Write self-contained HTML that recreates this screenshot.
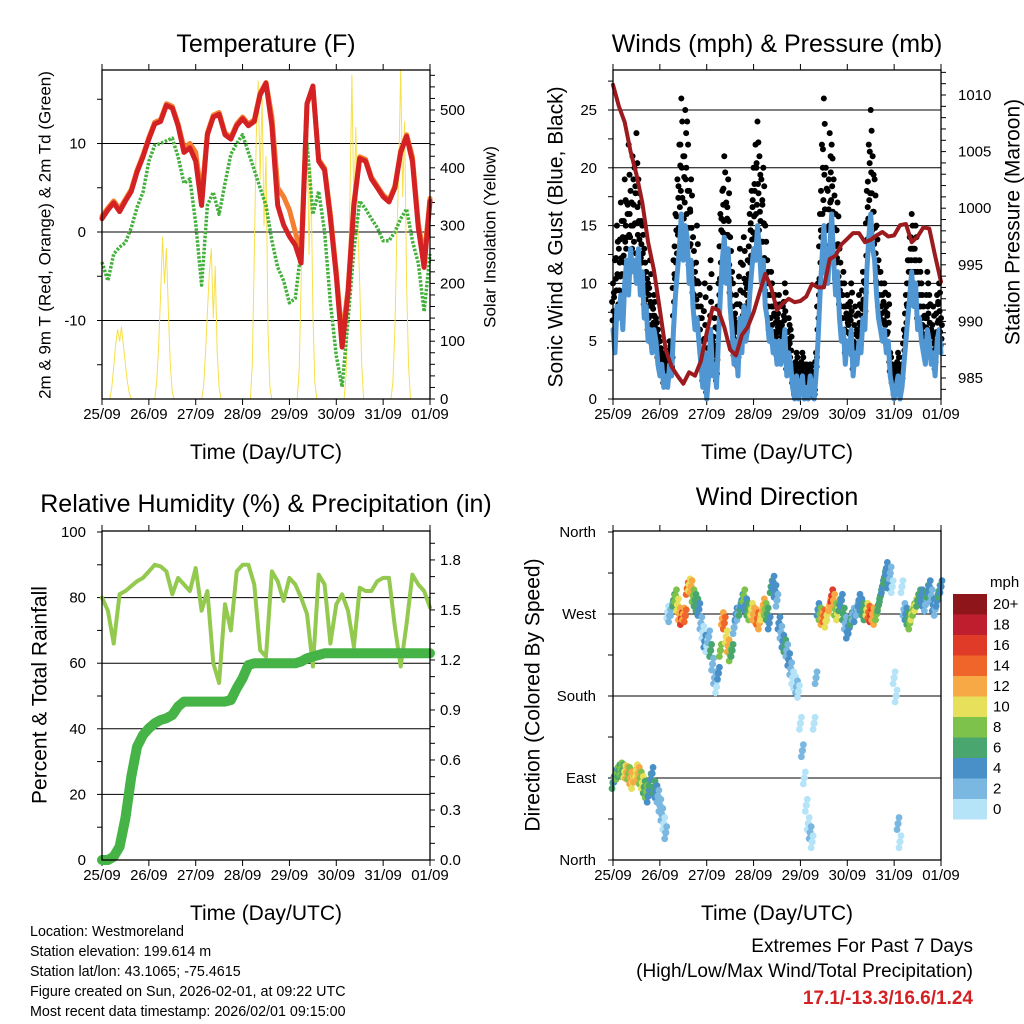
<!DOCTYPE html>
<html><head><meta charset="utf-8">
<style>
html,body{margin:0;padding:0;background:#fff;}
svg{display:block;font-family:"Liberation Sans",Arial,sans-serif;}
</style></head>
<body>
<svg id="chart" xmlns="http://www.w3.org/2000/svg" width="1024" height="1024" viewBox="0 0 1024 1024">
<rect x="0" y="0" width="1024" height="1024" fill="#fff"/>
</svg>
<script>
// ---------- DATA (3-hourly, hour 0..168) ----------
const dayLabels = ["25/09","26/09","27/09","28/09","29/09","30/09","31/09","01/09"];
const temp2m = [1.5,2.5,3.3,2.3,3.5,4.6,6.8,8.5,10.5,12.2,12.5,14.3,14.0,12.0,9.0,9.5,8,3,11,13,13.3,11,10.5,12,12.8,12,12.5,15.5,16.8,12,3,0.8,-0.5,-1.5,-3.5,14.5,16.5,8,7,1.5,-5,-13,-7,3,8.3,8,6,5,4,3.4,5,9,10.8,8,0.5,-4,3.5];
const temp9m = [1.8,2.7,3.5,2.6,3.7,4.8,7,8.7,10.7,12.4,12.7,14.5,14.2,12.2,9.5,10,9,4,11.2,13.2,13.5,11.2,10.7,12.2,13,12.2,12.7,15.7,16.9,13,5,4,2.5,0,-2.5,14.5,16.3,8.2,7.2,2,-4.5,-12,-6.5,3.3,8.5,8.2,6.2,5.2,4.2,3.6,5.2,9.2,11,8.5,1,-3,3.8];
const dewpt = [-3.4,-5.5,-2.5,-1.7,-1.2,0.5,2.8,4.5,8,9.8,10,10.3,10.6,8.5,5.5,6,1,-6,3,4.5,2,5.5,8.8,10,11,9,7,5,3,-1,-4,-5.5,-8,-7.5,-2,10,2,4.6,0,-8,-14,-17.5,-10,-2,3.5,2.6,1.5,0.5,-1,-1,0,1.5,2.6,-1,-3.5,-9,-2.5];
const solarStart = [4,27,51,76,100,124,148];
const solarVals = [
 [0,20,55,95,120,100,125,90,60,30,10,0],
 [0,30,90,180,280,200,260,150,60,10,0],
 [0,20,80,150,220,260,140,230,80,20,0],
 [0,60,250,450,550,380,520,300,420,120,20,0],
 [0,50,200,380,300,490,250,400,150,30,0],
 [0,40,150,350,560,320,470,300,200,60,0],
 [0,30,120,280,400,570,350,480,200,60,0]
];
const pressure = [1010.9,1009,1007.6,1005,1003,1000.5,997,994.5,991,987.5,986,985.2,984.5,985.5,985.2,986.5,989,991.2,991,989.5,987.5,987,988.8,989.5,990.8,992.5,994.2,993,991,991.6,992,991.7,991.8,992.2,993.3,993,993,995.5,995.8,996.8,997.3,997.8,997.8,997,997.2,997.6,997.9,997.5,997.6,998.5,998.6,997,997.5,998.3,998.2,995.8,993.5];
// hourly sonic wind & gust (mph), hour 0..168
const windSpeed = [6,4,8,7,9,6, 10,12,9,13,11,12,10,13,9,11, 7,8,5,6,4,6,5, 3,2,3,1,2,1,3,2, 6,9,11,13,16,12,15,14,10,12, 8,6,7,5, 3,1,4,0,2,6,2,3,1, 5,9,12,14,10,13,8,6, 3,5,2,7,4,8,5,6, 9,11,13,12,15,13,10,12,8, 7,5,6,4,5,3, 5,3,4,6,2,4,3, 1,0,2,0,1,2,0,1,0,2,1,0,2, 5,9,12,15,11,10,13,16,12,9,11, 7,5,6,3,5,4,6,2,4,3,5,4,7,6, 11,14,16,13,12,9, 7,6,5,6,4,5, 2,1,0,1,2,0,1, 3,5,7,9,11,8,10,6,7, 5,4,3,6,5,3,4,2,5,6,4];
const windGust = [10,12,15,13,17,14, 19,17,22,18,21,20,23,19,17,15, 13,11,10,12,8,9,7, 6,5,4,3,4,3,5,4, 12,16,19,22,26,21,25,24,18,19, 14,11,15,10, 8,4,10,3,6,12,5,7,4, 10,16,18,21,17,19,14,11, 7,9,6,13,8,14,10,12, 16,18,20,22,24,21,19,20,15, 12,10,11,8,9,7, 9,6,8,10,5,7,6, 3,2,4,2,3,4,2,3,1,3,2,1,4, 10,16,22,26,20,18,23,22,19,16,17, 13,10,11,8,9,8,10,5,8,6,9,8,11,10, 18,22,25,21,19,15, 12,11,9,10,8,9, 4,3,2,3,4,2,3, 6,9,12,14,16,13,15,11,12, 10,8,7,11,9,6,8,5,9,10,7];
const relHum = [80,76,66,81,82,83.5,85,86,88,90,89.5,88,81,86,84,82,89,76,82,60,54,78,70,88,90,90,84,64,62,88,85,79,86,84,80,75,59,87,84,66,78,81,76,65,83,82,82,85,86,86,71,59,72,87,84,82,77];
const precipTotal = [0,0,0.02,0.08,0.25,0.5,0.68,0.75,0.79,0.82,0.84,0.85,0.87,0.92,0.95,0.95,0.95,0.95,0.95,0.95,0.95,0.95,0.96,1.03,1.09,1.17,1.18,1.18,1.18,1.18,1.18,1.18,1.18,1.18,1.19,1.21,1.22,1.23,1.24,1.24,1.24,1.24,1.24,1.24,1.24,1.24,1.24,1.24,1.24,1.24,1.24,1.24,1.24,1.24,1.24,1.24,1.24];
// hourly wind direction (deg)
const windDir = [85,92,95,98,100,98,97,96,95,90,85,92,98, 95,90,85,80,75,70,88,95,80,75,70,60,50,40,30, 272,268,275,285,290,280,270,265,270,268, 298,302,300,290,285,280,275, 260,250,240,235,245,230,215,200,190,205,230, 265,260,245,235,225,230,255,270, 270,275,285,290,280,275,270, 275,270,268,265,260,270,280,275,270,260, 300,305,295,285,260,250,240,235,230,220,210,200,195,190,185, 150,120,90,60,40,30,20,150,200, 275,270,265,268,262,270,280,290,285,275,270, 280,285,270,260,250,255,265,270,268,275,285,280,275,270, 275,272,268,270,265,270, 280,290,300,310,320,305, 315,300,200,180,40,20,300, 275,270,265,260,270,275,280,285,290, 290,285,280,295,300,290,280,275,285,295,300];
const speedBinLabels = ["20+","18","16","14","12","10","8","6","4","2","0"];
const speedBinColors = ["#8e1519","#be1e2d","#e03b28","#f06529","#f7a945","#e6e05a","#7dc24a","#4aa66f","#4a90c8","#7ab8e2","#b5e3f8"];
const tempTicks = [10,0,-10];
const solarTicks = [0,100,200,300,400,500];
const windTicks = [0,5,10,15,20,25];
const presTicks = [985,990,995,1000,1005,1010];
const rhTicks = [0,20,40,60,80,100];
const prTicks = [0.0,0.3,0.6,0.9,1.2,1.5,1.8];
const dirTicks = [0,90,180,270,360];
const dirTickLabels = ["North","East","South","West","North"];

// ---------- HELPERS ----------
const NS = 'http://www.w3.org/2000/svg';
const svg = document.getElementById('chart');
function mk(tag, attrs, name, parent) {
  const el = document.createElementNS(NS, tag);
  for (const k in attrs) el.setAttribute(k, attrs[k]);
  
  
  (parent || svg).appendChild(el);
  return el;
}
function txt(x, y, s, size, anchor, name, extra) {
  const a = {x:x, y:y, 'font-size':size, 'text-anchor':anchor||'middle', fill:'#000'};
  if (extra) for (const k in extra) a[k] = extra[k];
  const t = mk('text', a, name);
  t.textContent = s;
  return t;
}
function vtxt(x, y, s, size, name) {
  return txt(0, 0, s, size, 'middle', name, {transform:'translate(' + x + ',' + y + ') rotate(-90)', 'dominant-baseline':'central'});
}
function poly(pts, attrs, name) {
  const a = Object.assign({fill:'none', 'stroke-linejoin':'round', 'stroke-linecap':'round'}, attrs);
  a.points = pts.map(p => p[0].toFixed(1) + ',' + p[1].toFixed(1)).join(' ');
  return mk('polyline', a, name);
}
function xs(x0) { return h => x0 + h / 168 * 328; }

function frame(x0, y0, pfx) {
  const x1 = x0 + 328, y1 = y0 + 329;
  const X = xs(x0);
  for (let d = 0; d <= 7; d++) {
    const x = X(d * 24);
    mk('line', {x1:x, y1:y0, x2:x, y2:y0 - 6, stroke:'#000', 'stroke-width':1}, pfx + '-top-tick');
    mk('line', {x1:x, y1:y1, x2:x, y2:y1 + 6, stroke:'#000', 'stroke-width':1}, pfx + '-bottom-tick');
    txt(x, y1 + 20, dayLabels[d], 15, 'middle', pfx + '-x-tick-label');
  }
  txt(x0 + 164, y1 + 60, 'Time (Day/UTC)', 21, 'middle', pfx + '-x-axis-title');
  return {x0, x1, y0, y1, X};
}
function border(f, pfx) {
  mk('rect', {x:f.x0, y:f.y0, width:328, height:329, fill:'none', stroke:'#000', 'stroke-width':1.3}, pfx + '-plot-border');
}
function grid(f, y, pfx) {
  mk('line', {x1:f.x0, y1:y, x2:f.x1, y2:y, stroke:'#000', 'stroke-width':1}, pfx + '-gridline');
}
function leftTicks(f, vals, Y, step, pfx) {
  for (let v = vals[0]; v <= vals[1] + 1e-9; v += step) {
    const y = Y(v); if (y < f.y0 - 0.5 || y > f.y1 + 0.5) continue;
    mk('line', {x1:f.x0, y1:y, x2:f.x0 - 5, y2:y, stroke:'#000', 'stroke-width':1}, pfx + '-left-tick');
  }
}
function rightTicks(f, vals, Y, step, pfx) {
  for (let v = vals[0]; v <= vals[1] + 1e-9; v += step) {
    const y = Y(v); if (y < f.y0 - 0.5 || y > f.y1 + 0.5) continue;
    mk('line', {x1:f.x1, y1:y, x2:f.x1 + 5, y2:y, stroke:'#000', 'stroke-width':1}, pfx + '-right-tick');
  }
}
const h3 = i => i * 3;

// ---------- PANEL 1: TEMPERATURE ----------
(function(){
  const f = frame(102, 70, 'temp');
  const tY = T => 232 - T * 8.85;
  const sY = s => 399 - s * 0.578;
  txt(266, 52, 'Temperature (F)', 25, 'middle', 'temp-title');
  tempTicks.forEach(v => { grid(f, tY(v), 'temp'); txt(86, tY(v) + 5, String(v), 15, 'end', 'temp-left-tick-label'); });
  solarTicks.forEach(v => txt(440, sY(v) + 5, String(v), 15, 'start', 'solar-right-tick-label'));
  leftTicks(f, [-15, 15], tY, 5, 'temp');
  rightTicks(f, [0, 560], sY, 20, 'solar');
  vtxt(45, 235, '2m & 9m T (Red, Orange) & 2m Td (Green)', 17, 'temp-left-axis-title');
  vtxt(490, 237, 'Solar Insolation (Yellow)', 17, 'solar-right-axis-title');
  solarStart.forEach((s, d) => {
    poly(solarVals[d].map((v, k) => [f.X(s + k), sY(v)]), {stroke:'#f7e04a', 'stroke-width':1}, 'solar-insolation-day');
  });
  poly(dewpt.map((v, i) => [f.X(h3(i)), tY(v)]), {stroke:'#44b03c', 'stroke-width':3.5, 'stroke-dasharray':'2.5,1.5', 'stroke-linecap':'butt'}, 'dewpoint-line');
  poly(temp9m.map((v, i) => [f.X(h3(i)), tY(v)]), {stroke:'#f47f30', 'stroke-width':5}, 'temp-9m-line');
  poly(temp2m.map((v, i) => [f.X(h3(i)), tY(v)]), {stroke:'#d42124', 'stroke-width':5}, 'temp-2m-line');
  border(f, 'temp');
})();

// ---------- PANEL 2: WINDS & PRESSURE ----------
(function(){
  const f = frame(613, 70, 'wind');
  const wY = w => 399 - w * 11.56;
  const pY = p => 95 + (1010 - p) * 11.32;
  txt(777, 52, 'Winds (mph) & Pressure (mb)', 25, 'middle', 'wind-title');
  windTicks.forEach(v => { if (v > 0) grid(f, wY(v), 'wind'); txt(597, wY(v) + 5, String(v), 15, 'end', 'wind-left-tick-label'); });
  presTicks.forEach(v => txt(958, pY(v) + 5, String(v), 15, 'start', 'pressure-right-tick-label'));
  leftTicks(f, [0, 27.5], wY, 2.5, 'wind');
  rightTicks(f, [983, 1012], pY, 1, 'pressure');
  vtxt(556, 237, 'Sonic Wind & Gust (Blue, Black)', 21, 'wind-left-axis-title');
  vtxt(1013, 222, 'Station Pressure (Maroon)', 21, 'pressure-right-axis-title');
  windGust.forEach((g, i) => {
    const w = windSpeed[i];
    const x = f.X(i);
    mk('circle', {cx:x, cy:wY(g), r:3, fill:'#000'}, 'gust-point');
    mk('circle', {cx:x + 0.9, cy:wY(w + (g - w) * 0.8), r:3, fill:'#000'}, 'gust-point');
    mk('circle', {cx:x - 0.9, cy:wY(w + (g - w) * 0.6), r:3, fill:'#000'}, 'gust-point');
    mk('circle', {cx:x + 0.5, cy:wY(w + (g - w) * 0.4), r:3, fill:'#000'}, 'gust-point');
    mk('circle', {cx:x - 0.5, cy:wY(w + (g - w) * 0.2), r:3, fill:'#000'}, 'gust-point');
  });
  poly(windSpeed.map((v, i) => [f.X(i), wY(v)]), {stroke:'#4f96d2', 'stroke-width':5}, 'sonic-wind-line');
  poly(pressure.map((v, i) => [f.X(h3(i)), pY(v)]), {stroke:'#9b1b1e', 'stroke-width':4}, 'pressure-line');
  border(f, 'wind');
})();

// ---------- PANEL 3: RH & PRECIP ----------
(function(){
  const f = frame(102, 531, 'rh');
  const rY = r => 860 - r * 3.28;
  const qY = v => 860 - v * 166.7;
  txt(266, 512, 'Relative Humidity (%) & Precipitation (in)', 25, 'middle', 'rh-title');
  rhTicks.forEach(v => { if (v > 0 && v < 100) grid(f, rY(v), 'rh'); txt(86, rY(v) + 5, String(v), 15, 'end', 'rh-left-tick-label'); });
  prTicks.forEach(v => txt(440, qY(v) + 5, v.toFixed(1), 15, 'start', 'precip-right-tick-label'));
  leftTicks(f, [0, 100], rY, 10, 'rh');
  rightTicks(f, [0, 1.9], qY, 0.1, 'precip');
  vtxt(40, 695, 'Percent & Total Rainfall', 21, 'rh-left-axis-title');
  poly(relHum.map((v, i) => [f.X(h3(i)), rY(v)]), {stroke:'#93c94f', 'stroke-width':4}, 'relative-humidity-line');
  poly(precipTotal.map((v, i) => [f.X(h3(i)), qY(v)]), {stroke:'#46b347', 'stroke-width':10}, 'precip-total-line');
  border(f, 'rh');
})();

// ---------- PANEL 4: WIND DIRECTION ----------
(function(){
  const f = frame(613, 531, 'dir');
  const dY = d => 860 - d / 360 * 328;
  txt(777, 505, 'Wind Direction', 25, 'middle', 'dir-title');
  dirTicks.forEach((v, k) => { if (v > 0 && v < 360) grid(f, dY(v), 'dir'); txt(596, dY(v) + 5, dirTickLabels[k], 15, 'end', 'dir-left-tick-label'); });
  leftTicks(f, [0, 360], dY, 45, 'dir');
  vtxt(533, 695, 'Direction (Colored By Speed)', 21, 'dir-left-axis-title');
  function colorFor(s) { let b = Math.min(10, Math.floor(s / 2)); return speedBinColors[10 - b]; }
  windDir.forEach((d, i) => {
    const c = colorFor(windSpeed[i]);
    mk('circle', {cx:f.X(i), cy:dY(d), r:3.6, fill:c}, 'direction-point');
    mk('circle', {cx:f.X(i) + 1, cy:dY(d) - 6, r:3.4, fill:c}, 'direction-point');
    mk('circle', {cx:f.X(i) - 1, cy:dY(d) + 6, r:3.4, fill:c}, 'direction-point');
  });
  border(f, 'dir');
  txt(990, 587, 'mph', 15, 'start', 'colorbar-title');
  speedBinColors.forEach((c, k) => {
    const y = 594 + k * 20.5;
    mk('rect', {x:953, y:y, width:34, height:20.5, fill:c}, 'colorbar-box');
    txt(993, y + 15, speedBinLabels[k], 15, 'start', 'colorbar-label');
  });
})();

// ---------- FOOTER ----------
const footLines = ['Location: Westmoreland','Station elevation: 199.614 m','Station lat/lon: 43.1065; -75.4615','Figure created on Sun, 2026-02-01, at 09:22 UTC','Most recent data timestamp: 2026/02/01 09:15:00'];
footLines.forEach((s, k) => txt(30, 936 + k * 20, s, 14.3, 'start', 'station-info-line'));
txt(973, 952, 'Extremes For Past 7 Days', 19, 'end', 'extremes-heading');
txt(973, 977, '(High/Low/Max Wind/Total Precipitation)', 19, 'end', 'extremes-subheading');
txt(973, 1004, '17.1/-13.3/16.6/1.24', 19, 'end', 'extremes-values', {fill:'#d42124', 'font-weight':'bold'});
</script>
</body></html>
